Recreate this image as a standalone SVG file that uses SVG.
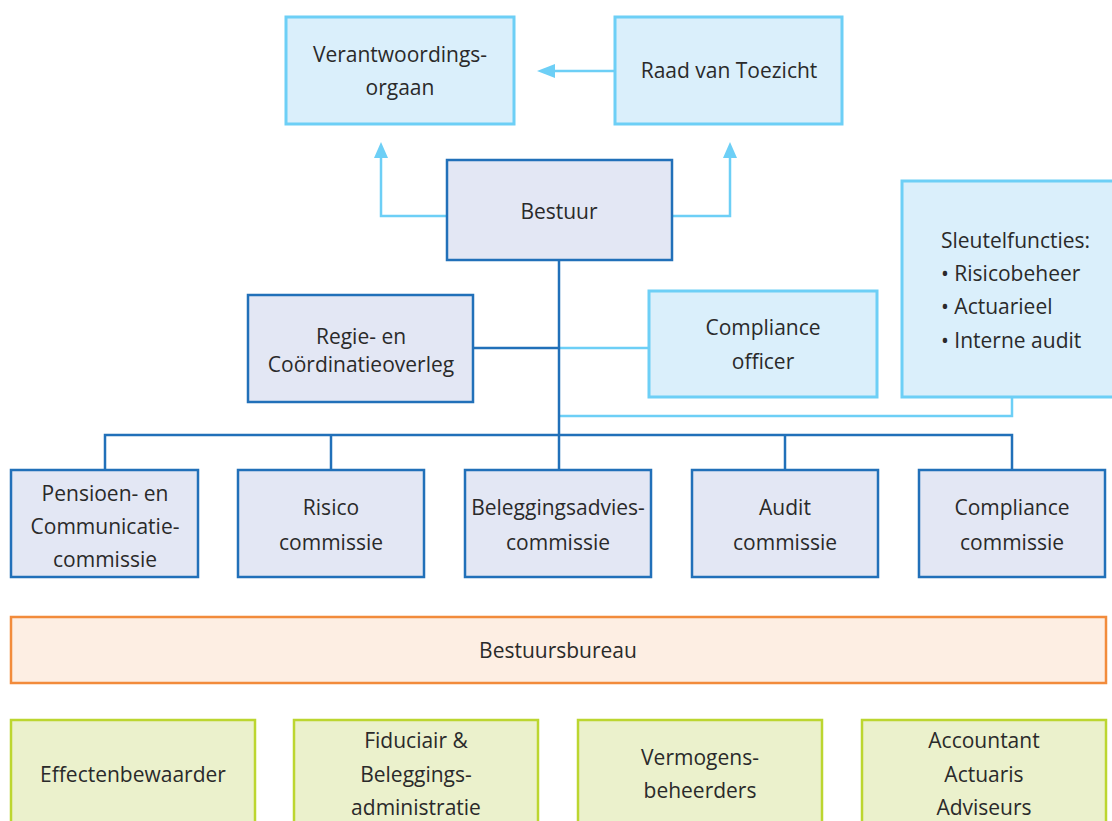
<svg xmlns="http://www.w3.org/2000/svg" width="1112" height="821" viewBox="0 0 1112 821">
<defs>
<style>
.lb{fill:#daeffb;stroke:#6dcff6;stroke-width:3}
.db{fill:#e3e7f4;stroke:#2170b9;stroke-width:2.5}
.gr{fill:#ebf1cc;stroke:#bcd630;stroke-width:2.5}
.or{fill:#fdeee3;stroke:#f28b3b;stroke-width:2.5}
text{font-family:"Open Sans","Liberation Sans",sans-serif;font-size:21px;fill:#2a2a2a;text-anchor:middle}
.l{text-anchor:start}
.cl{fill:none;stroke:#6dcff6;stroke-width:2.5}
.cd{fill:none;stroke:#2170b9;stroke-width:2.5}
.ah{fill:#6dcff6}
</style>
</defs>
<g id="connectors">
<line class="cl" x1="615" y1="71" x2="555" y2="71"/>
<path class="ah" d="M555,64 L537,71 L555,78 z"/>
<polyline class="cl" points="447,216 381,216 381,158"/>
<path class="ah" d="M374,158 L381,142 L388,158 z"/>
<polyline class="cl" points="672,216 730,216 730,158"/>
<path class="ah" d="M723,158 L730,142 L737,158 z"/>
<line class="cl" x1="559" y1="348" x2="649" y2="348"/>
<polyline class="cl" points="559,416 1012,416 1012,397"/>
<line class="cd" x1="559" y1="260" x2="559" y2="470"/>
<line class="cd" x1="473" y1="348" x2="559" y2="348"/>
<polyline class="cd" points="105,470 105,435 1012,435 1012,470"/>
<line class="cd" x1="331" y1="435" x2="331" y2="470"/>
<line class="cd" x1="785" y1="435" x2="785" y2="470"/>
</g>
<g id="verantwoordingsorgaan">
<rect class="lb" x="286" y="17" width="228" height="107"/>
<text x="400" y="62">Verantwoordings-</text>
<text x="400" y="95">orgaan</text>
</g>
<g id="raad">
<rect class="lb" x="615" y="17" width="227" height="107"/>
<text x="729" y="78">Raad van Toezicht</text>
</g>
<g id="bestuur">
<rect class="db" x="447" y="160" width="225" height="100"/>
<text x="559" y="219">Bestuur</text>
</g>
<g id="regie">
<rect class="db" x="248" y="295" width="225" height="107"/>
<text x="361" y="344">Regie- en</text>
<text x="361" y="372">Coördinatieoverleg</text>
</g>
<g id="compliance-officer">
<rect class="lb" x="649" y="291" width="228" height="106"/>
<text x="763" y="335">Compliance</text>
<text x="763" y="369">officer</text>
</g>
<g id="sleutelfuncties">
<rect class="lb" x="902" y="181" width="215" height="216"/>
<text class="l" x="941" y="248">Sleutelfuncties:</text>
<text class="l" x="941" y="281">• Risicobeheer</text>
<text class="l" x="941" y="314">• Actuarieel</text>
<text class="l" x="941" y="348">• Interne audit</text>
</g>
<g id="pensioen">
<rect class="db" x="11" y="470" width="187" height="107"/>
<text x="105" y="501">Pensioen- en</text>
<text x="105" y="534">Communicatie-</text>
<text x="105" y="567">commissie</text>
</g>
<g id="risico">
<rect class="db" x="238" y="470" width="186" height="107"/>
<text x="331" y="515">Risico</text>
<text x="331" y="550">commissie</text>
</g>
<g id="beleggingsadvies">
<rect class="db" x="465" y="470" width="186" height="107"/>
<text x="558" y="515">Beleggingsadvies-</text>
<text x="558" y="550">commissie</text>
</g>
<g id="audit">
<rect class="db" x="692" y="470" width="186" height="107"/>
<text x="785" y="515">Audit</text>
<text x="785" y="550">commissie</text>
</g>
<g id="compliance-commissie">
<rect class="db" x="919" y="470" width="186" height="107"/>
<text x="1012" y="515">Compliance</text>
<text x="1012" y="550">commissie</text>
</g>
<g id="bestuursbureau">
<rect class="or" x="11" y="617" width="1095" height="66"/>
<text x="558" y="658">Bestuursbureau</text>
</g>
<g id="effectenbewaarder">
<rect class="gr" x="11" y="720" width="244" height="110"/>
<text x="133" y="782">Effectenbewaarder</text>
</g>
<g id="fiduciair">
<rect class="gr" x="294" y="720" width="244" height="110"/>
<text x="416" y="748">Fiduciair &amp;</text>
<text x="416" y="782">Beleggings-</text>
<text x="416" y="815">administratie</text>
</g>
<g id="vermogensbeheerders">
<rect class="gr" x="578" y="720" width="244" height="110"/>
<text x="700" y="765">Vermogens-</text>
<text x="700" y="798">beheerders</text>
</g>
<g id="accountant">
<rect class="gr" x="862" y="720" width="244" height="110"/>
<text x="984" y="748">Accountant</text>
<text x="984" y="782">Actuaris</text>
<text x="984" y="815">Adviseurs</text>
</g>
</svg>
